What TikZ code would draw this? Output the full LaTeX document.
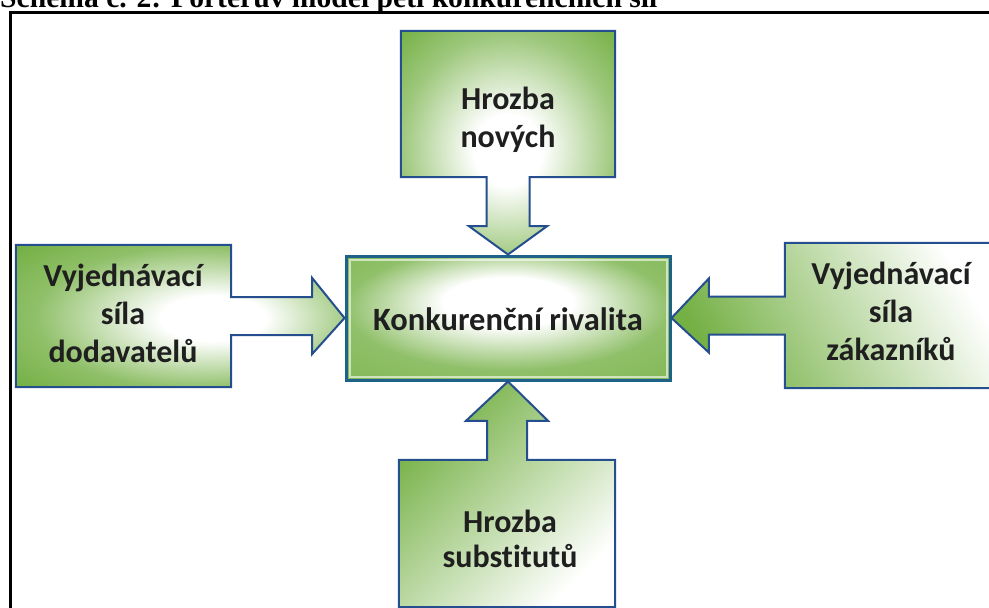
\documentclass[tikz,border=0pt]{standalone}
\usepackage{fontspec}
\setmainfont{Carlito}[Ligatures=NoCommon]
\newfontfamily\titlefont{Liberation Serif}
\usetikzlibrary{calc}
\definecolor{porterGreen}{RGB}{116,176,68}
\definecolor{porterBlue}{RGB}{36,78,142}
\definecolor{porterTeal}{RGB}{30,98,138}
\pgfdeclareradialshading{forceglow}{\pgfpoint{0bp}{-2bp}}{color(0bp)=(white); color(8bp)=(white); color(25bp)=(porterGreen!70!white); color(36bp)=(porterGreen); color(50bp)=(porterGreen)}
\pgfdeclareradialshading{leftglow}{\pgfpoint{6bp}{-1bp}}{color(0bp)=(white); color(8bp)=(white); color(25bp)=(porterGreen!80!white); color(36bp)=(porterGreen); color(50bp)=(porterGreen)}
\pgfdeclareradialshading{rivalglow}{\pgfpoint{0bp}{8bp}}{color(0bp)=(white); color(10bp)=(white); color(25bp)=(porterGreen!80!white); color(50bp)=(porterGreen)}
\tikzset{
  forcebox/.style={rectangle,inner sep=0pt},
  callout/.style={draw=porterBlue,line width=2pt,line join=miter},
  forcetext/.style={align=center,text=black!88,font=\fontsize{32}{38}\selectfont\bfseries},
}
\begin{document}
\begin{tikzpicture}[x=1pt,y=-1pt]
  \useasboundingbox (0,0) rectangle (989,608);
  \clip (0,0) rectangle (989,608);
  \node[anchor=base west,inner sep=0pt,font=\titlefont\fontsize{29.6}{30}\selectfont\bfseries] (title) at (0,7) {Schéma č. 2: Porterův model pěti konkurenčních sil};
  \draw[line width=3pt] (10.5,608) -- (10.5,12.5) -- (989,12.5);

  \node[forcebox,minimum width=324pt,minimum height=124pt,draw=porterTeal,line width=3pt,shade,shading=rivalglow] (rival) at (508,318) {};
  \draw[white,opacity=.6,line width=2pt] ($(rival.north west)+(5,5)$) rectangle ($(rival.south east)+(-5,-5)$);
  \node[forcetext,anchor=base,font=\fontsize{32.5}{38}\selectfont\bfseries] (rivalT) at (508,330) {Konkurenční rivalita};

  \node[forcebox,minimum width=214pt,minimum height=146pt] (novi) at (508,104) {};
  \node[forcebox,minimum width=215pt,minimum height=142pt] (dodav) at (123.5,316) {};
  \node[forcebox,minimum width=212pt,minimum height=145pt] (zakaz) at (891,315.5) {};
  \node[forcebox,minimum width=216pt,minimum height=147pt] (subst) at (507,533.5) {};

  \path[callout,shade,shading=forceglow]
    (novi.north west) -- (novi.north east) -- (novi.south east)
    -- ($(novi.south)+(21.5,0)$) -- ($(novi.south)+(21.5,49)$) -- ($(novi.south)+(39,49)$)
    -- (rival.north)
    -- ($(novi.south)+(-39,49)$) -- ($(novi.south)+(-21.5,49)$) -- ($(novi.south)+(-21.5,0)$)
    -- (novi.south west) -- cycle;
  \path[callout,shade,shading=leftglow]
    (dodav.north west) -- (dodav.north east)
    -- ($(dodav.east)+(0,-19)$) -- ($(dodav.east)+(81,-19)$) -- ($(dodav.east)+(81,-38)$)
    -- (rival.west)
    -- ($(dodav.east)+(81,38)$) -- ($(dodav.east)+(81,19)$) -- ($(dodav.east)+(0,19)$)
    -- (dodav.south east) -- (dodav.south west) -- cycle;
  \path[callout,top color=white,bottom color=porterGreen,shading angle=-60]
    (zakaz.north east) -- (zakaz.north west)
    -- ($(zakaz.west)+(0,-19)$) -- ($(zakaz.west)+(-76,-19)$) -- ($(zakaz.west)+(-76,-37)$)
    -- (rival.east)
    -- ($(zakaz.west)+(-76,37)$) -- ($(zakaz.west)+(-76,19)$) -- ($(zakaz.west)+(0,19)$)
    -- (zakaz.south west) -- (zakaz.south east) -- cycle;
  \path[callout,top color=porterGreen,bottom color=white,shading angle=45]
    (subst.south west) -- (subst.north west)
    -- ($(subst.north)+(-20,0)$) -- ($(subst.north)+(-20,-39)$) -- ($(subst.north)+(-41,-39)$)
    -- (rival.south)
    -- ($(subst.north)+(41,-39)$) -- ($(subst.north)+(20,-39)$) -- ($(subst.north)+(20,0)$)
    -- (subst.north east) -- (subst.south east) -- cycle;

  \node[forcetext] (noviT) at (508,120) {Hrozba\\nových};
  \node[forcetext] (dodavT) at (123,313) {Vyjednávací\\síla\\dodavatelů};
  \node[forcetext] (zakazT) at (891,311) {Vyjednávací\\síla\\zákazníků};
  \node[forcetext,font=\fontsize{32}{35}\selectfont\bfseries] (substT) at (510,539) {Hrozba\\substitutů};
\end{tikzpicture}
\end{document}
